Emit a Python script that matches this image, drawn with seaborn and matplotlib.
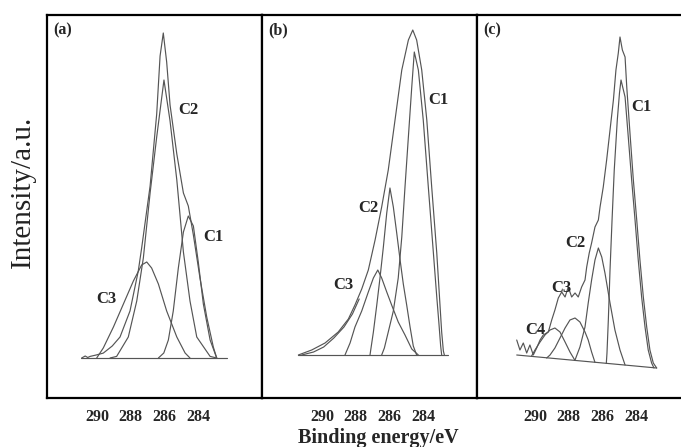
import matplotlib
matplotlib.use('Agg')
import matplotlib.pyplot as plt
import seaborn as sns

# ---- panel (a): binding energy (eV) / intensity (a.u.) ----
a_env_e = [290.91, 290.70, 290.55, 290.41, 290.05, 289.63, 289.10, 288.64, 288.05, 287.56, 287.36,
           286.86, 286.47, 286.27, 286.08, 285.88, 285.68, 285.28, 284.89, 284.60, 284.30, 283.91,
           283.51, 283.12, 282.92]
a_env_i = [0, 2, 0.5, 1.6, 3, 4.9, 12, 21, 47, 87, 110,
           172, 244, 302, 325, 296, 253, 204, 165, 152, 123, 80,
           41, 11, 0]
a_c1_e = [286.37, 286.05, 285.78, 285.49, 285.19, 284.89, 284.60, 284.30, 284.01, 283.71, 283.31, 282.92]
a_c1_i = [0, 5, 18, 47, 90, 126, 142, 132, 96, 54, 18, 0]
a_c2_e = [289.23, 288.84, 288.15, 287.65, 287.26, 286.86, 286.47, 286.04, 285.68, 285.28, 284.89,
          284.50, 284.10, 283.31, 282.92]
a_c2_i = [0, 1.6, 21, 57, 100, 165, 221, 278, 237, 178, 106, 57, 21, 1.6, 0]
a_c3_e = [290.02, 289.63, 289.03, 288.44, 287.85, 287.36, 287.06, 286.77, 286.37, 285.88, 285.28,
          284.79, 284.50]
a_c3_i = [0, 10, 31, 54, 77, 93, 96, 90, 74, 47, 21, 5, 0]
a_base_e = [290.97, 282.33]
a_base_i = [0, 0]

# ---- panel (b) ----
b_env_e = [291.40, 290.61, 289.82, 289.04, 288.44, 288.05, 287.65, 287.26, 286.86, 286.47, 286.08,
           285.68, 285.28, 284.89, 284.63, 284.40, 284.10, 283.80, 283.51, 283.21, 283.02, 282.92,
           282.82, 282.76]
b_env_i = [0, 5, 12, 23, 36, 50, 66, 85, 115, 148, 185,
           235, 285, 315, 325, 315, 285, 235, 168, 102, 50, 23,
           4, 0]
b_fit_e = [291.20, 290.50, 289.90, 289.30, 288.70, 288.20, 287.80]
b_fit_i = [0, 3, 8, 17, 28, 41, 56]
b_c1_e = [286.47, 286.31, 286.08, 285.78, 285.49, 285.28, 285.09, 284.89, 284.69, 284.54, 284.30,
          284.01, 283.71, 283.41, 283.21, 283.08, 282.98, 282.92]
b_c1_i = [0, 7, 23, 44, 77, 118, 168, 218, 268, 303, 285, 235, 168, 102, 58, 31, 9, 0]
b_c2_e = [287.16, 287.10, 286.96, 286.76, 286.57, 286.37, 286.17, 285.98, 285.78, 285.58, 285.38,
          285.19, 284.99, 284.79, 284.60, 284.40]
b_c2_i = [0, 7, 23, 50, 77, 108, 142, 167, 148, 122, 95, 71, 50, 28, 9, 0]
b_c3_e = [288.64, 288.34, 288.05, 287.65, 287.26, 286.96, 286.70, 286.47, 286.17, 285.88, 285.49,
          285.09, 284.69, 284.30]
b_c3_i = [0, 12, 28, 44, 63, 77, 85, 77, 63, 50, 33, 20, 6, 0]
b_base_e = [291.42, 282.54]
b_base_i = [0, 0]

# ---- panel (c) ----
c_env_e = [291.08, 290.89, 290.69, 290.49, 290.30, 290.10, 289.90, 289.70, 289.51, 289.21, 289.01,
           288.82, 288.62, 288.42, 288.22, 288.03, 287.83, 287.63, 287.44, 287.24, 287.04, 286.94,
           286.79, 286.65, 286.45, 286.25, 286.15, 285.96, 285.76, 285.56, 285.36, 285.21, 285.07,
           284.97, 284.83, 284.67, 284.57, 284.38, 284.18, 283.98, 283.79, 283.59, 283.39, 283.20,
           283.00, 282.80]
c_env_i = [28, 18, 25, 15, 23, 13, 20, 28, 33, 36, 48,
           58, 70, 76, 71, 81, 71, 75, 71, 81, 88, 101,
           115, 125, 141, 148, 161, 181, 208, 238, 268, 298, 315,
           331, 318, 311, 281, 235, 188, 148, 108, 71, 41, 18,
           5, 0]
c_c1_e = [285.78, 285.74, 285.66, 285.56, 285.44, 285.31, 285.13, 285.00, 284.91, 284.67, 284.48,
          284.28, 284.08, 283.89, 283.69, 283.49, 283.30, 283.10, 282.96]
c_c1_i = [4.5, 15, 48, 98, 148, 198, 248, 275, 288, 271, 231, 188, 148, 108, 71, 41, 18, 5, 0]
c_c2_e = [287.63, 287.34, 287.04, 286.85, 286.65, 286.45, 286.25, 286.05, 285.86, 285.56, 285.27,
          284.97, 284.67]
c_c2_i = [8, 21, 41, 65, 88, 108, 120, 111, 95, 65, 38, 18, 3]
c_c3_e = [289.31, 289.11, 288.82, 288.52, 288.22, 287.93, 287.63, 287.34, 287.04, 286.85, 286.65,
          286.45]
c_c3_i = [10, 13, 20, 30, 40, 48, 50, 46, 36, 28, 16, 5.6]
c_c4_e = [290.20, 290.00, 289.70, 289.41, 289.11, 288.82, 288.52, 288.22, 287.93, 287.63]
c_c4_i = [12, 18, 26, 33, 38, 40, 36, 26, 16, 7.5]
c_base_e = [291.08, 282.80]
c_base_i = [13, 0]

tick_values = [290, 288, 286, 284]

sns.set_style('white')
plt.rcParams['font.family'] = ['Liberation Serif', 'DejaVu Serif']

fig = plt.figure(figsize=(6.81, 4.47), dpi=100)
W, H = 681, 447

panels = [
    {'tag': '(a)', 'left': 47, 'xlim': (292.96, 280.24), 'ylim': (-40, 343),
     'curves': [(a_base_e, a_base_i), (a_c3_e, a_c3_i), (a_c1_e, a_c1_i), (a_c2_e, a_c2_i),
                (a_env_e, a_env_i)],
     'labels': [('C2', 284.60, 248), ('C1', 283.12, 121), ('C3', 289.43, 59)]},
    {'tag': '(b)', 'left': 262, 'xlim': (293.55, 280.83), 'ylim': (-43, 340),
     'curves': [(b_base_e, b_base_i), (b_c3_e, b_c3_i), (b_c2_e, b_c2_i), (b_c1_e, b_c1_i),
                (b_fit_e, b_fit_i), (b_env_e, b_env_i)],
     'labels': [('C1', 283.12, 255), ('C2', 287.26, 147), ('C3', 288.74, 70)]},
    {'tag': '(c)', 'left': 477, 'xlim': (293.43, 280.71), 'ylim': (-30, 353),
     'curves': [(c_base_e, c_base_i), (c_c4_e, c_c4_i), (c_c3_e, c_c3_i), (c_c2_e, c_c2_i),
                (c_c1_e, c_c1_i), (c_env_e, c_env_i)],
     'labels': [('C1', 283.69, 261), ('C2', 287.63, 125), ('C3', 288.42, 80), ('C4', 290.0, 38)]},
]

line_color = '#555555'
for p in panels:
    ax = fig.add_axes([p['left'] / W, 49 / H, 215 / W, 383 / H])
    for e, i in p['curves']:
        sns.lineplot(x=e, y=i, ax=ax, color=line_color, linewidth=0.85,
                     sort=False, estimator=None, legend=False)
    ax.set_xlim(*p['xlim'])
    ax.set_ylim(*p['ylim'])
    ax.set_xticks(tick_values)
    ax.set_xticklabels([str(t) for t in tick_values], fontsize=11.5, fontweight='bold')
    ax.set_yticks([])
    ax.tick_params(axis='x', length=0, pad=8)
    ax.set_xlabel('')
    ax.set_ylabel('')
    for s in ax.spines.values():
        s.set_visible(True)
        s.set_color('black')
        s.set_linewidth(1.6)
    ax.text(0.03, 0.96, p['tag'], transform=ax.transAxes, fontsize=11.5,
            fontweight='bold', ha='left', va='center')
    for txt, xe, yi in p['labels']:
        ax.text(xe, yi, txt, fontsize=12, fontweight='bold', ha='center', va='center')

fig.text(23 / W, 1 - 192 / H, 'Intensity/a.u.', rotation=90, fontsize=21,
         ha='center', va='center', color='#222222')
fig.text(378 / W, 1 - 438 / H, 'Binding energy/eV', fontsize=14.5, fontweight='bold',
         ha='center', va='center')

fig.savefig('out.png', dpi=100)
